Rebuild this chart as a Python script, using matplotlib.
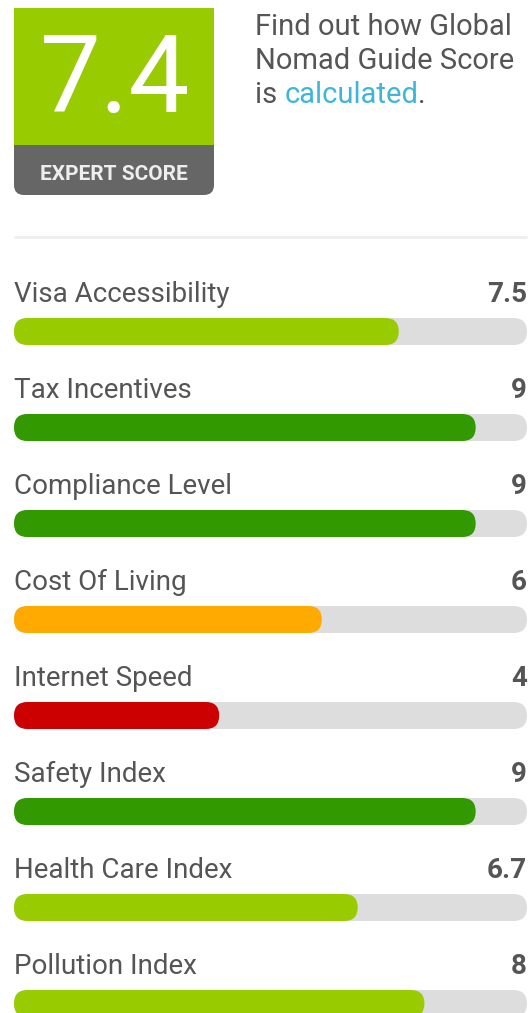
import matplotlib.pyplot as plt
from matplotlib.patches import FancyBboxPatch, Rectangle

plt.rcParams['font.family'] = ['Roboto', 'DejaVu Sans']

# data
categories = ['Visa Accessibility', 'Tax Incentives', 'Compliance Level', 'Cost Of Living',
              'Internet Speed', 'Safety Index', 'Health Care Index', 'Pollution Index']
scores = [7.5, 9, 9, 6, 4, 9, 6.7, 8]
score_labels = ['7.5', '9', '9', '6', '4', '9', '6.7', '8']
expert_score = '7.4'
max_score = 10


def bar_color(v):
    if v >= 8.5:
        return '#339900'
    if v >= 6.5:
        return '#99cc00'
    if v >= 5:
        return '#ffaa00'
    return '#cc0000'


W, H = 530, 1013
fig = plt.figure(figsize=(W / 100, H / 100), dpi=100)
ax = fig.add_axes([0, 0, 1, 1])
ax.set_xlim(0, W)
ax.set_ylim(H, 0)
ax.axis('off')

# score box
ax.add_patch(FancyBboxPatch((14, 8), 200, 187, boxstyle='round,pad=0,rounding_size=10',
                            fc='#666666', ec='none'))
ax.add_patch(Rectangle((14, 8), 200, 137, fc='#99cc00', ec='none'))
ax.text(115, 112, expert_score, color='white', fontsize=78, fontweight='normal',
        ha='center', va='baseline')
ax.text(114, 180, 'EXPERT SCORE', color='#eeeeee', fontsize=15, fontweight='bold',
        ha='center', va='baseline')

# description
txt_color = '#555555'
fs = 21
ax.text(255, 35, 'Find out how Global', color=txt_color, fontsize=fs, va='baseline')
ax.text(255, 69, 'Nomad Guide Score', color=txt_color, fontsize=fs, va='baseline')
t = ax.text(255, 103, 'is ', color=txt_color, fontsize=fs, va='baseline')
fig.canvas.draw()
bb = t.get_window_extent()
x2 = 255 + bb.width
t2 = ax.text(x2, 103, 'calculated', color='#3db6d8', fontsize=fs, va='baseline')
bb2 = t2.get_window_extent()
ax.text(x2 + bb2.width, 103, '.', color=txt_color, fontsize=fs, va='baseline')

# separator
ax.plot([14, 527], [237, 237], color='#eeeeee', lw=2, solid_capstyle='butt')

# bars
x0, x1 = 14, 527
track_w = x1 - x0
bar_h = 27
for i, (cat, v, lab) in enumerate(zip(categories, scores, score_labels)):
    base = 302 + i * 96
    ax.text(x0, base, cat, color=txt_color, fontsize=20, va='baseline')
    ax.text(x1, base, lab, color=txt_color, fontsize=20, fontweight='bold',
            ha='right', va='baseline')
    top = base + 16
    ax.add_patch(FancyBboxPatch((x0, top), track_w, bar_h,
                                boxstyle='round,pad=0,rounding_size=13.5',
                                fc='#dddddd', ec='none'))
    ax.add_patch(FancyBboxPatch((x0, top), track_w * v / max_score, bar_h,
                                boxstyle='round,pad=0,rounding_size=13.5',
                                fc=bar_color(v), ec='none'))

fig.savefig('out.png', dpi=100)
